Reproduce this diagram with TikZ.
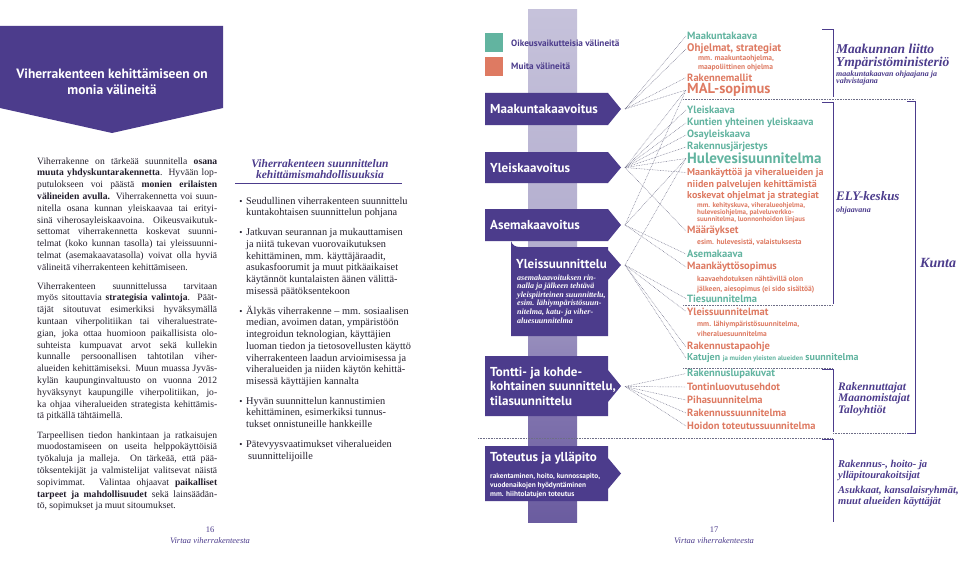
\documentclass[tikz,border=0pt]{standalone}
\usepackage{fontspec}
\setmainfont{Liberation Serif}
\newfontfamily\sans{PT Sans}
\definecolor{purp}{RGB}{76,60,140}
\definecolor{tealc}{RGB}{98,180,160}
\definecolor{orgc}{RGB}{222,122,98}
\definecolor{connc}{RGB}{110,110,135}
\definecolor{txtc}{RGB}{35,30,45}
\pgfdeclareverticalshading{barshade}{100bp}{rgb(0bp)=(0.31,0.26,0.55); rgb(20bp)=(0.38,0.32,0.6); rgb(36bp)=(0.5,0.45,0.68); rgb(52bp)=(0.7,0.68,0.81); rgb(100bp)=(0.86,0.85,0.91)}
\newcommand\jl[1]{\makebox[180pt][s]{#1}}
\tikzset{
  body/.style={anchor=base west, inner sep=0pt, align=left, text=txtc, font=\fontsize{9.6}{11.8}\selectfont},
  bul/.style={anchor=base west, inner sep=0pt, align=left, text=txtc, font=\fontsize{10.3}{11.75}\selectfont},
  dot/.style={anchor=base, inner sep=0pt, text=txtc, font=\fontsize{9}{10}\selectfont},
  boxtxt/.style={anchor=base west, inner sep=0pt, align=left, text=white, font=\sans\bfseries\fontsize{13}{14.5}\selectfont},
  itm/.style={anchor=west, inner sep=1pt, font=\sans\bfseries\fontsize{10.5}{11}\selectfont},
  subt/.style={anchor=base west, inner sep=0pt, align=left, text=orgc, font=\sans\bfseries\fontsize{7.5}{9.5}\selectfont},
  tl/.style={text=tealc},
  og/.style={text=orgc},
  actor/.style={anchor=base west, inner sep=0pt, align=left, text=purp, font=\bfseries\itshape\fontsize{13.5}{13}\selectfont},
  actsm/.style={anchor=base west, inner sep=0pt, align=left, text=purp, font=\bfseries\itshape\fontsize{8}{7.5}\selectfont},
  conn/.style={draw=connc, line width=0.45pt, dash pattern=on 0.7pt off 0.9pt},
  brk/.style={draw=purp, line width=0.8pt},
  dline/.style={draw=connc, line width=0.6pt, dash pattern=on 0.8pt off 0.8pt},
  pg/.style={anchor=base, inner sep=0pt, text=purp, font=\itshape\fontsize{8.5}{10}\selectfont},
  legtxt/.style={anchor=west, inner sep=0pt, text=purp, font=\sans\bfseries\fontsize{9.2}{10}\selectfont}
}
\begin{document}
\begin{tikzpicture}[x=1pt,y=-1pt]
\useasboundingbox (0,0) rectangle (960,575);
\fill[white] (0,0) rectangle (960,575);

% ---------- left header ----------
\fill[purp] (0,26) -- (223,26) -- (223,108) -- (112,133) -- (0,108) -- cycle;
\node[align=center, text=white, font=\sans\bfseries\fontsize{13.5}{15.5}\selectfont, anchor=base] (hdr) at (112,94.5) {Viherrakenteen kehittämiseen on\\monia välineitä};

% ---------- left column (anchor = baseline of last line) ----------
\node[body] (p1) at (37,270.2) {\jl{Viherrakenne on tärkeää suunnitella \textbf{osana}}\\
\jl{\textbf{muuta yhdyskuntarakennetta}. Hyvään lop-}\\
\jl{putulokseen voi päästä \textbf{monien erilaisten}}\\
\jl{\textbf{välineiden avulla.} Viherrakennetta voi suun-}\\
\jl{nitella osana kunnan yleiskaavaa tai erityi-}\\
\jl{sinä viherosayleiskaavoina. Oikeusvaikutuk-}\\
\jl{settomat viherrakennetta koskevat suunni-}\\
\jl{telmat (koko kunnan tasolla) tai yleissuunni-}\\
\jl{telmat (asemakaavatasolla) voivat olla hyviä}\\
välineitä viherrakenteen kehittämiseen.};
\node[body] (p2) at (37,418.8) {\jl{Viherrakenteen suunnittelussa tarvitaan}\\
\jl{myös sitouttavia \textbf{strategisia valintoja}. Päät-}\\
\jl{täjät sitoutuvat esimerkiksi hyväksymällä}\\
\jl{kuntaan viherpolitiikan tai viheraluestrate-}\\
\jl{gian, joka ottaa huomioon paikallisista olo-}\\
\jl{suhteista kumpuavat arvot sekä kullekin}\\
\jl{kunnalle persoonallisen tahtotilan viher-}\\
\jl{alueiden kehittämiseksi. Muun muassa Jyväs-}\\
\jl{kylän kaupunginvaltuusto on vuonna 2012}\\
\jl{hyväksynyt kaupungille viherpolitiikan, jo-}\\
\jl{ka ohjaa viheralueiden strategista kehittämis-}\\
tä pitkällä tähtäimellä.};
\node[body] (p3) at (37,508.8) {\jl{Tarpeellisen tiedon hankintaan ja ratkaisujen}\\
\jl{muodostamiseen on useita helppokäyttöisiä}\\
\jl{työkaluja ja malleja. On tärkeää, että pää-}\\
\jl{töksentekijät ja valmistelijat valitsevat näistä}\\
\jl{sopivimmat. Valintaa ohjaavat \textbf{paikalliset}}\\
\jl{\textbf{tarpeet ja mahdollisuudet} sekä lainsäädän-}\\
tö, sopimukset ja muut sitoumukset.};

% ---------- middle column ----------
\node[anchor=base, inner sep=0pt, text=purp, font=\bfseries\itshape\fontsize{11.5}{11.5}\selectfont] (mh1) at (320,167) {Viherrakenteen suunnittelun};
\node[anchor=base, inner sep=0pt, text=purp, font=\bfseries\itshape\fontsize{11.5}{11.5}\selectfont] (mh2) at (320,178.5) {kehittämismahdollisuuksia};
\draw[purp, line width=1.2pt] (235,183.5) -- (402,183.5);

\node[dot] (d1) at (241,204) {•};
\node[bul] (b1) at (246,215.75) {Seudullinen viherrakenteen suunnittelu\\kuntakohtaisen suunnittelun pohjana};
\node[dot] (d2) at (241,235.5) {•};
\node[bul] (b2) at (246,294.25) {Jatkuvan seurannan ja mukauttamisen\\ja niitä tukevan vuorovaikutuksen\\kehittäminen, mm. käyttäjäraadit,\\asukasfoorumit ja muut pitkäaikaiset\\käytännöt kuntalaisten äänen välittä-\\misessä päätöksentekoon};
\node[dot] (d3) at (241,314) {•};
\node[bul] (b3) at (246,384.5) {Älykäs viherrakenne – mm. sosiaalisen\\median, avoimen datan, ympäristöön\\integroidun teknologian, käyttäjien\\luoman tiedon ja tietosovellusten käyttö\\viherrakenteen laadun arvioimisessa ja\\viheralueiden ja niiden käytön kehittä-\\misessä käyttäjien kannalta};
\node[dot] (d4) at (241,404) {•};
\node[bul] (b4) at (246,427.5) {Hyvän suunnittelun kannustimien\\kehittäminen, esimerkiksi tunnus-\\tukset onnistuneille hankkeille};
\node[dot] (d5) at (241,447.5) {•};
\node[bul] (b5) at (246,459.25) {Pätevyysvaatimukset viheralueiden\\\hspace*{2pt}suunnittelijoille};

% page footers
\node[pg, font=\fontsize{8.5}{10}\selectfont] (n16) at (210,532) {16};
\node[pg] (v16) at (210,543) {Virtaa viherrakenteesta};
\node[pg, font=\fontsize{8.5}{10}\selectfont] (n17) at (714,532) {17};
\node[pg] (v17) at (714,543) {Virtaa viherrakenteesta};

% ---------- centre diagram ----------
\shade[shading=barshade] (528,10) rectangle (577,522);

\fill[tealc] (485,33) rectangle (503,52);
\fill[orgc] (485,57) rectangle (503,76);
\node[legtxt] (lg1) at (511,43) {Oikeusvaikutteisia välineitä};
\node[legtxt] (lg2) at (511,66.5) {Muita välineitä};

\fill[purp] (485,93) -- (608,93) -- (621,109) -- (608,125) -- (485,125) -- cycle;
\fill[purp] (485,152) -- (608,152) -- (621,167.5) -- (608,183) -- (485,183) -- cycle;
\fill[purp] (485,209) -- (608,209) -- (621,225) -- (608,241) -- (485,241) -- cycle;
\fill[purp] (511,247) -- (608,247) -- (608,250) -- (621,265) -- (608,280) -- (608,336) -- (511,336) -- cycle;
\fill[purp] (511,241) .. controls (512,245) and (515,247) .. (520,247) -- (511,247) -- cycle;
\fill[purp] (485,356) -- (608,356) -- (608,370) -- (621,386) -- (608,402) -- (608,416) -- (485,416) -- cycle;
\fill[purp] (485,446) -- (608,446) -- (608,458) -- (621,473.5) -- (608,489) -- (608,501) -- (485,501) -- cycle;

\node[boxtxt] (bMaak) at (490,113.5) {Maakuntakaavoitus};
\node[boxtxt] (bYlk) at (490,172) {Yleiskaavoitus};
\node[boxtxt] (bAsem) at (490,229.5) {Asemakaavoitus};
\node[boxtxt] (bYsu) at (516,268) {Yleissuunnittelu};
\node[anchor=base west, inner sep=0pt, align=left, text=white, font=\bfseries\itshape\fontsize{8}{8.6}\selectfont] (bYsuT) at (517,323) {asemakaavoituksen rin-\\nalla ja jälkeen tehtävä\\yleispiirteinen suunnittelu,\\esim. lähiympäristösuun-\\nitelma, katu- ja viher-\\aluesuunnitelma};
\node[boxtxt] (bTont) at (490,405) {Tontti- ja kohde-\\kohtainen suunnittelu,\\tilasuunnittelu};
\node[boxtxt] (bTot) at (490,461) {Toteutus ja ylläpito};
\node[anchor=base west, inner sep=0pt, align=left, text=white, font=\sans\bfseries\fontsize{7.3}{9}\selectfont] (bTotT) at (490,496) {rakentaminen, hoito, kunnossapito,\\vuodenaikojen hyödyntäminen\\mm. hiihtolatujen toteutus};

\coordinate (cMaak) at (625,109);
\coordinate (cYlk) at (625,167.5);
\coordinate (cAsem) at (625,225);
\coordinate (cYsu) at (625,265);
\coordinate (cTont) at (625,386.5);

% ---------- right list ----------
\node[itm, tl] (m1) at (686,36) {Maakuntakaava};
\node[itm, og, font=\sans\bfseries\fontsize{11}{11}\selectfont] (m2) at (686,49) {Ohjelmat, strategiat};
\node[subt] (m2s) at (698,70) {mm. maakuntaohjelma,\\maapoliittinen ohjelma};
\node[itm, og] (m3) at (686,77.5) {Rakennemallit};
\node[itm, og, font=\sans\bfseries\fontsize{14.5}{15}\selectfont] (m4) at (686,90) {MAL-sopimus};

\node[itm, tl] (y1) at (686,110) {Yleiskaava};
\node[itm, tl] (y2) at (686,123) {Kuntien yhteinen yleiskaava};
\node[itm, tl] (y3) at (686,135) {Osayleiskaava};
\node[itm, tl] (y4) at (686,147) {Rakennusjärjestys};
\node[itm, tl, font=\sans\bfseries\fontsize{15}{15}\selectfont] (y5) at (686,158.5) {Hulevesisuunnitelma};
\node[itm, og, font=\sans\bfseries\fontsize{10}{11}\selectfont] (y6) at (686,172.5) {Maankäyttöä ja viheralueiden ja};
\node[anchor=base west, inner sep=0pt, align=left, text=orgc, font=\sans\bfseries\fontsize{10}{11}\selectfont] (y6b) at (687,198) {niiden palvelujen kehittämistä\\koskevat ohjelmat ja strategiat};
\node[subt, font=\sans\bfseries\fontsize{7}{6.8}\selectfont] (y6s) at (697,221.5) {mm. kehityskuva, viheralueohjelma,\\hulevesiohjelma, palveluverkko-\\suunnitelma, luonnonhoidon linjaus};
\node[itm, og] (y7) at (686,231) {Määräykset};
\node[subt] (y7s) at (697,244.5) {esim. hulevesistä, valaistuksesta};
\node[itm, tl] (a1) at (686,254) {Asemakaava};
\node[itm, og] (a2) at (686,267) {Maankäyttösopimus};
\node[subt] (a2s) at (697,291) {kaavaehdotuksen nähtävillä olon\\jälkeen, aiesopimus (ei sido sisältöä)};
\node[itm, tl] (a3) at (686,298.5) {Tiesuunnitelma};
\node[itm, og] (s1) at (686,311.5) {Yleissuunnitelmat};
\node[subt] (s1s) at (697,336) {mm. lähiympäristösuunnitelma,\\viheraluesuunnitelma};
\node[itm, og] (s2) at (686,347) {Rakennustapaohje};
\node[itm, tl, font=\sans\bfseries\fontsize{10}{11}\selectfont] (s3) at (686,358) {Katujen {\fontsize{6.8}{8}\selectfont ja muiden yleisten alueiden} suunnitelma};
\node[itm, tl] (t1) at (686,373.5) {Rakennuslupakuvat};
\node[itm, og] (t2) at (686,387) {Tontinluovutusehdot};
\node[itm, og] (t3) at (686,400) {Pihasuunnitelma};
\node[itm, og] (t4) at (686,413) {Rakennussuunnitelma};
\node[itm, og] (t5) at (686,426) {Hoidon toteutussuunnitelma};

% ---------- connectors ----------
\foreach \t in {m1,m2,m3,m4} \draw[conn] (cMaak) -- (\t.west);
\foreach \t in {m4,y1,y2,y3,y4,y5,y6,y7} \draw[conn] (cYlk) -- (\t.west);
\foreach \t in {m4,y5,a1,a2} \draw[conn] (cAsem) -- (\t.west);
\foreach \t in {y5,a3,s1,s2,s3} \draw[conn] (cYsu) -- (\t.west);
\foreach \t in {t1,t2,t3,t4,t5} \draw[conn] (cTont) -- (\t.west);

% ---------- separators and brackets ----------
\draw[dline] (683,99.5) -- (915,99.5);
\draw[dline] (683,305) -- (833,305);
\draw[dline] (683,368) -- (833,368);
\draw[dline] (478,438) -- (833,438);
\draw[dline] (833,433) -- (915,433);
\draw[brk] (822,29) -- (833,29) -- (833,97);
\draw[brk] (822,102) -- (833,102) -- (833,304);
\draw[brk] (822,369.5) -- (833,369.5) -- (833,432);
\draw[brk] (822,439.5) -- (833,439.5) -- (833,522);
\draw[brk] (907,101) -- (915,101) -- (915,433) -- (907,433);

% ---------- actors ----------
\node[actor] (ac1) at (836,67) {Maakunnan liitto\\Ympäristöministeriö};
\node[actsm] (ac1s) at (836,84) {maakuntakaavan ohjaajana ja\\vahvistajana};
\node[actor, font=\bfseries\itshape\fontsize{13}{13}\selectfont] (ac2) at (836,200) {ELY-keskus};
\node[actsm] (ac2s) at (836,212) {ohjaavana};
\node[actor, font=\bfseries\itshape\fontsize{14}{14}\selectfont] (ac3) at (920,267) {Kunta};
\node[actor, font=\bfseries\itshape\fontsize{11.5}{11.6}\selectfont] (ac4) at (838,413.2) {Rakennuttajat\\Maanomistajat\\Taloyhtiöt};
\node[actor, font=\bfseries\itshape\fontsize{10.5}{11.8}\selectfont] (ac5) at (838,478.8) {Rakennus-, hoito- ja\\ylläpitourakoitsijat};
\node[actor, font=\bfseries\itshape\fontsize{10.5}{11.8}\selectfont] (ac6) at (838,504.8) {Asukkaat, kansalaisryhmät,\\muut alueiden käyttäjät};
\end{tikzpicture}
\end{document}
